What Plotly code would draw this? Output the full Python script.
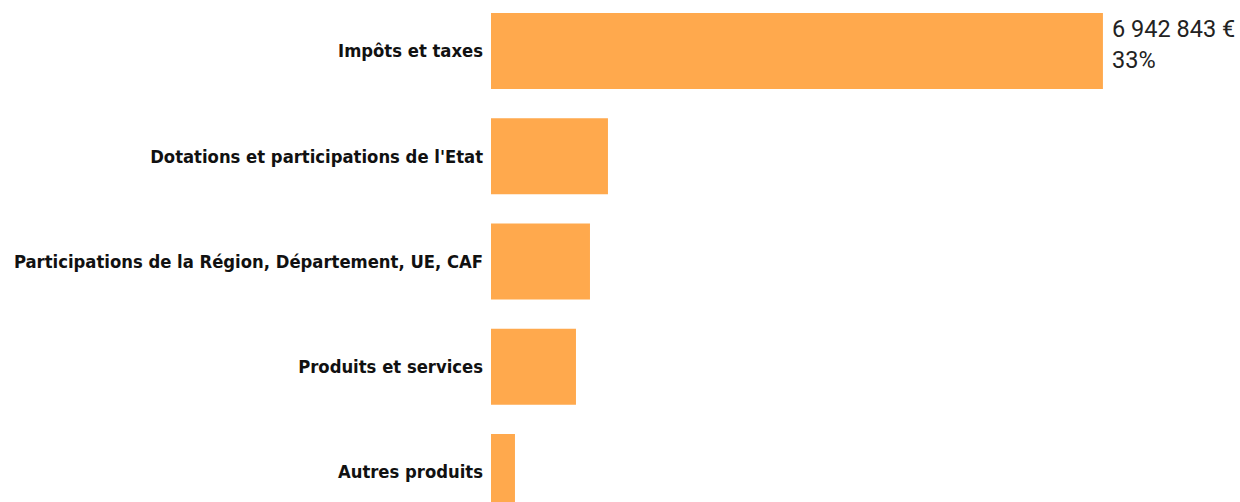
import plotly.graph_objects as go

categories = [
    "Impôts et taxes",
    "Dotations et participations de l'Etat",
    "Participations de la Région, Département, UE, CAF",
    "Produits et services",
    "Autres produits",
]
values = [6942843, 1327000, 1123000, 964000, 272000]
top_label = "6 942 843 €<br>33%"

fig = go.Figure(
    go.Bar(
        x=values,
        y=categories,
        orientation="h",
        marker=dict(color="#FFA94D", line=dict(width=0)),
        width=0.72,
        hoverinfo="skip",
    )
)

fig.add_annotation(
    x=values[0],
    y=categories[0],
    xref="x",
    yref="y",
    text=top_label,
    showarrow=False,
    xanchor="left",
    yanchor="middle",
    align="left",
    xshift=7,
    yshift=7,
    font=dict(family="Roboto", size=23.5, color="#222222"),
)

fig.update_layout(
    width=1240,
    height=502,
    margin=dict(l=491, r=0, t=0, b=0, autoexpand=False),
    paper_bgcolor="white",
    plot_bgcolor="white",
    showlegend=False,
    xaxis=dict(
        range=[0, values[0] * 1.224],
        showgrid=False,
        zeroline=False,
        showticklabels=False,
        showline=False,
        fixedrange=True,
        automargin=False,
    ),
    yaxis=dict(
        type="category",
        categoryorder="array",
        categoryarray=categories,
        range=[4.285, -0.4846],
        showgrid=False,
        zeroline=False,
        showline=False,
        ticks="",
        ticklabelstandoff=7,
        automargin=False,
        tickfont=dict(family="DejaVu Sans Condensed", size=18.3, color="#111111", weight="bold"),
        fixedrange=True,
    ),
)

fig.write_html(
    "out.html",
    config={"displayModeBar": False},
    post_script="document.body.style.margin='0';document.body.style.overflow='hidden';",
)
